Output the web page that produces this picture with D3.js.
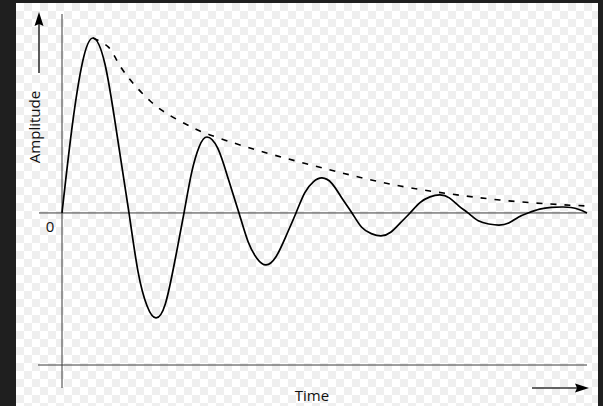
<!DOCTYPE html>
<html>
<head>
<meta charset="utf-8">
<script src="https://cdn.jsdelivr.net/npm/d3@7"></script>
<style>
  html, body { margin: 0; padding: 0; background: #1f1f1f; }
  svg { display: block; }
</style>
</head>
<body>
<div id="canvas"></div>
<script>
// damped oscillation, time 0..10, amplitude relative to first peak
const curveTime = [0, 0.196, 0.394, 0.590, 0.819, 1.048,
  1.276, 1.448, 1.619, 1.790, 1.968, 2.146,
  2.324, 2.470, 2.615, 2.762, 2.966, 3.168,
  3.371, 3.543, 3.714, 3.886, 4.076, 4.267,
  4.457, 4.623, 4.787, 4.952, 5.143, 5.333,
  5.524, 5.709, 5.891, 6.076, 6.261, 6.444,
  6.629, 6.819, 7.010, 7.200, 7.377, 7.556,
  7.733, 7.930, 8.128, 8.324, 8.509, 8.692,
  8.876, 9.099, 9.320, 9.543, 9.695, 9.848, 10];
const curveAmp = [0, 0.50, 0.866, 1.00, 0.85, 0.447,
  0, -0.335, -0.53, -0.60, -0.52, -0.28,
  0, 0.232, 0.38, 0.434, 0.37, 0.194,
  0, -0.163, -0.26, -0.297, -0.25, -0.132,
  0, 0.115, 0.178, 0.20, 0.168, 0.084,
  0, -0.082, -0.118, -0.131, -0.11, -0.057,
  0, 0.059, 0.092, 0.103, 0.086, 0.041,
  0, -0.045, -0.063, -0.069, -0.057, -0.024,
  0, 0.022, 0.032, 0.034, 0.031, 0.02, 0];

// envelope (dashed)
const envTime = [0.59, 0.88, 1.05, 1.24, 1.45, 1.68, 1.92, 2.21, 2.50, 2.82,
  3.58, 4.53, 5.49, 6.44, 7.39, 8.34, 9.30, 10];
const envAmp = [1.00, 0.949, 0.869, 0.783, 0.709, 0.64, 0.583, 0.531, 0.486, 0.446,
  0.371, 0.291, 0.217, 0.154, 0.109, 0.074, 0.051, 0.04];

const xLabel = "Time";
const yLabel = "Amplitude";
const zeroLabel = "0";

const W = 603, H = 406;

const svg = d3.select("#canvas")
  .append("svg")
  .attr("width", W)
  .attr("height", H);

// checker background
const defs = svg.append("defs");
const pat = defs.append("pattern")
  .attr("id", "checker")
  .attr("patternUnits", "userSpaceOnUse")
  .attr("x", 16).attr("y", 3)
  .attr("width", 16).attr("height", 16);
pat.append("rect").attr("width", 16).attr("height", 16).attr("fill", "#ffffff");
pat.append("rect").attr("x", 8).attr("y", 0).attr("width", 8).attr("height", 8).attr("fill", "#efefef");
pat.append("rect").attr("x", 0).attr("y", 8).attr("width", 8).attr("height", 8).attr("fill", "#efefef");

svg.append("rect")
  .attr("x", 16).attr("y", 3)
  .attr("width", 582).attr("height", H - 3)
  .attr("fill", "url(#checker)");

const x = d3.scaleLinear().domain([0, 10]).range([62, 587]);
const y = d3.scaleLinear().domain([-0.869, 1.12]).range([365, 17]);

const axisColor = "#3a3a3a";

// vertical axis
svg.append("line")
  .attr("x1", x(0)).attr("x2", x(0))
  .attr("y1", 14).attr("y2", 388)
  .attr("stroke", axisColor).attr("stroke-width", 1);

// zero line
svg.append("line")
  .attr("x1", 39).attr("x2", x(10))
  .attr("y1", y(0)).attr("y2", y(0))
  .attr("stroke", axisColor).attr("stroke-width", 1);

// bottom line
svg.append("line")
  .attr("x1", 38).attr("x2", x(10))
  .attr("y1", y(-0.869)).attr("y2", y(-0.869))
  .attr("stroke", axisColor).attr("stroke-width", 1);

// arrows
svg.append("line")
  .attr("x1", 39).attr("x2", 39)
  .attr("y1", 73).attr("y2", 24)
  .attr("stroke", "#333").attr("stroke-width", 1.6);
svg.append("path")
  .attr("d", "M39,12 L43.5,26 L39,24 L34.5,26 Z")
  .attr("fill", "#000");

svg.append("line")
  .attr("x1", 532).attr("x2", 577)
  .attr("y1", 388).attr("y2", 388)
  .attr("stroke", "#333").attr("stroke-width", 1.6);
svg.append("path")
  .attr("d", "M589,388 L575,383.5 L577,388 L575,392.5 Z")
  .attr("fill", "#000");

// labels
svg.append("text")
  .attr("x", 312).attr("y", 401)
  .attr("text-anchor", "middle")
  .attr("font-family", "Open Sans")
  .attr("font-size", 15)
  .attr("fill", "#111")
  .text(xLabel);

svg.append("text")
  .attr("transform", "translate(40,127) rotate(-90)")
  .attr("text-anchor", "middle")
  .attr("font-family", "Open Sans")
  .attr("font-size", 15)
  .attr("fill", "#111")
  .text(yLabel);

svg.append("text")
  .attr("x", 50).attr("y", 232)
  .attr("text-anchor", "middle")
  .attr("font-family", "Open Sans")
  .attr("font-size", 15)
  .attr("fill", "#111")
  .text(zeroLabel);

// envelope
const envData = envTime.map((t, i) => [t, envAmp[i]]);
svg.append("path")
  .datum(envData)
  .attr("d", d3.line().x(d => x(d[0])).y(d => y(d[1])).curve(d3.curveNatural))
  .attr("fill", "none")
  .attr("stroke", "#000")
  .attr("stroke-width", 1.6)
  .attr("stroke-dasharray", "6,8");

// oscillation
const curveData = curveTime.map((t, i) => [t, curveAmp[i]]);
svg.append("path")
  .datum(curveData)
  .attr("d", d3.line().x(d => x(d[0])).y(d => y(d[1])).curve(d3.curveNatural))
  .attr("fill", "none")
  .attr("stroke", "#000")
  .attr("stroke-width", 1.7);
</script>
</body>
</html>
